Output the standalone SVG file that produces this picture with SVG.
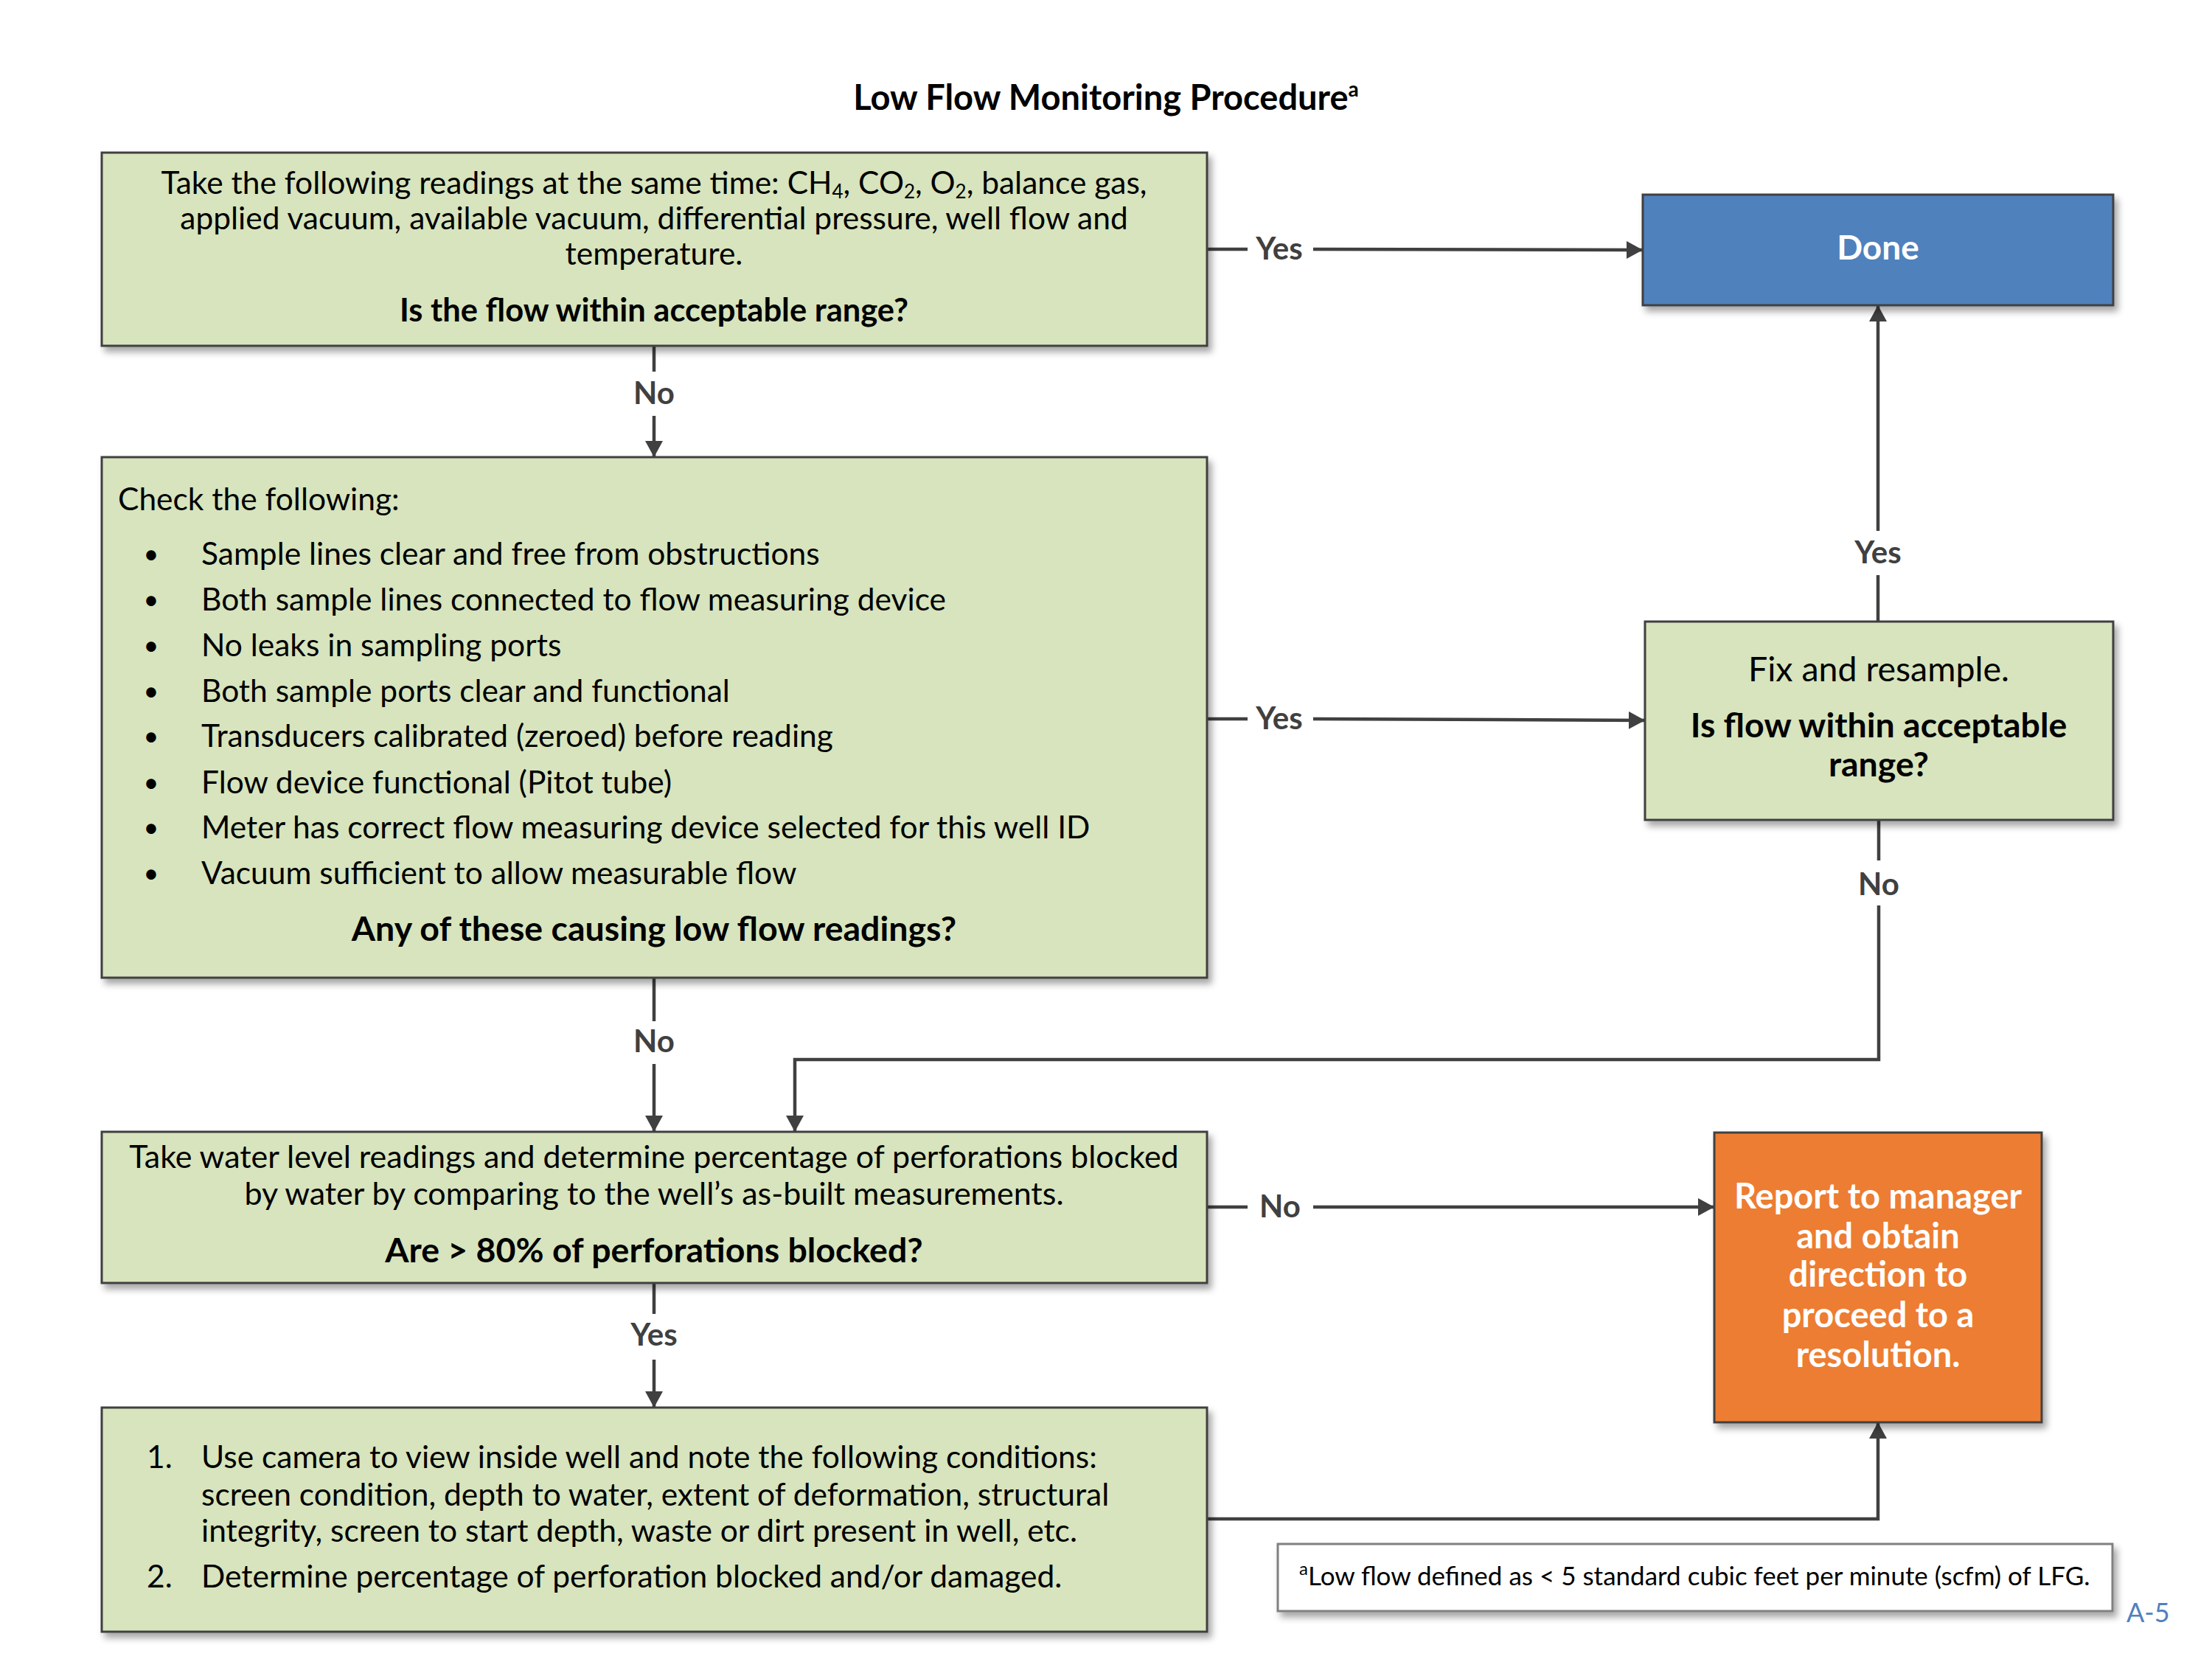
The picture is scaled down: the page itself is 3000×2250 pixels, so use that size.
<svg xmlns="http://www.w3.org/2000/svg" width="3000" height="2250" viewBox="0 0 3000 2250">
<style>
text{font-family:Lato,"Open Sans","DejaVu Sans",sans-serif;fill:#000}
.box{fill:#d7e4bd;stroke:#404040;stroke-width:3;filter:url(#sh)}
.t{font-size:42.5px}
.b{font-weight:bold}
.c{text-anchor:middle}
.q{font-size:46.5px;font-weight:bold;text-anchor:middle}
.bul{font-size:36px;text-anchor:middle}
.lbl{font-size:42px;font-weight:bold;fill:#404040;text-anchor:middle}
.con{fill:none;stroke:#404040;stroke-width:4.5}
.arr{marker-end:url(#ah)}
.w{fill:#fff}
.r{font-size:47px;font-weight:bold;text-anchor:middle;fill:#fff}
.sub{font-size:26px}
</style>
<defs>
<filter id="sh" x="-5%" y="-5%" width="115%" height="125%">
<feDropShadow dx="5" dy="7" stdDeviation="5" flood-color="#000" flood-opacity="0.35"/>
</filter>
<marker id="ah" markerUnits="userSpaceOnUse" markerWidth="24" markerHeight="24" refX="22" refY="12" orient="auto">
<path d="M0,0 L22,12 L0,24 z" fill="#404040"/>
</marker>
</defs>
<rect width="3000" height="2250" fill="#fff"/>

<text id="title" x="1500" y="149" class="b c" font-size="47">Low Flow Monitoring Procedure<tspan font-size="28" dy="-18">a</tspan></text>

<g id="connectors">
<path class="con arr" d="M1637,338 H1692 M1781,338 L2228,339"/>
<path class="con arr" d="M1637,975 H1692 M1781,975 L2231,977"/>
<path class="con arr" d="M887,469 V504 M887,564 V620"/>
<path class="con arr" d="M887,1326 V1385 M887,1443 V1535"/>
<path class="con arr" d="M887,1740 V1782 M887,1844 V1909"/>
<path class="con arr" d="M2547,843 V780 M2547,720 V414"/>
<path class="con arr" d="M2548,1112 V1167 M2548,1228 V1437 H1078 V1535"/>
<path class="con arr" d="M1637,1637 H1692 M1781,1637 H2325"/>
<path class="con arr" d="M1637,2060 H2547 V1929"/>
<text class="lbl" x="1735" y="352">Yes</text>
<text class="lbl" x="1735" y="989">Yes</text>
<text class="lbl" x="887" y="548">No</text>
<text class="lbl" x="887" y="1427">No</text>
<text class="lbl" x="887" y="1825">Yes</text>
<text class="lbl" x="2547" y="764">Yes</text>
<text class="lbl" x="2548" y="1214">No</text>
<text class="lbl" x="1736" y="1651">No</text>
</g>

<g id="n1">
<rect class="box" x="138" y="207" width="1499" height="262"/>
<text class="t c" x="887" y="263">Take the following readings at the same time: CH<tspan class="sub" dy="6">4</tspan><tspan dy="-6">, CO</tspan><tspan class="sub" dy="6">2</tspan><tspan dy="-6">, O</tspan><tspan class="sub" dy="6">2</tspan><tspan dy="-6">, balance gas,</tspan></text>
<text class="t c" x="887" y="311">applied vacuum, available vacuum, differential pressure, well flow and</text>
<text class="t c" x="887" y="359">temperature.</text>
<text class="b c" font-size="43.5" x="887" y="436">Is the flow within acceptable range?</text>
</g>

<g id="n2">
<rect class="box" x="138" y="620" width="1499" height="706"/>
<text class="t" x="160" y="692">Check the following:</text>
<text class="bul" x="205" y="764">•</text>
<text class="bul" x="205" y="826">•</text>
<text class="bul" x="205" y="888">•</text>
<text class="bul" x="205" y="950">•</text>
<text class="bul" x="205" y="1011">•</text>
<text class="bul" x="205" y="1074">•</text>
<text class="bul" x="205" y="1135">•</text>
<text class="bul" x="205" y="1197">•</text>
<text class="t" x="273" y="766">Sample lines clear and free from obstructions</text>
<text class="t" x="273" y="828">Both sample lines connected to flow measuring device</text>
<text class="t" x="273" y="890">No leaks in sampling ports</text>
<text class="t" x="273" y="952">Both sample ports clear and functional</text>
<text class="t" x="273" y="1013">Transducers calibrated (zeroed) before reading</text>
<text class="t" x="273" y="1076">Flow device functional (Pitot tube)</text>
<text class="t" x="273" y="1137">Meter has correct flow measuring device selected for this well ID</text>
<text class="t" x="273" y="1199">Vacuum sufficient to allow measurable flow</text>
<text class="q" x="887" y="1276">Any of these causing low flow readings?</text>
</g>

<g id="n3">
<rect class="box" x="138" y="1535" width="1499" height="205"/>
<text class="c" font-size="43" x="887" y="1584">Take water level readings and determine percentage of perforations blocked</text>
<text class="c" font-size="43" x="887" y="1634">by water by comparing to the well’s as-built measurements.</text>
<text class="q" x="887" y="1712">Are &gt; 80% of perforations blocked?</text>
</g>

<g id="n4">
<rect class="box" x="138" y="1909" width="1499" height="304"/>
<text class="t" x="199" y="1991">1.</text>
<text class="t" x="273" y="1991">Use camera to view inside well and note the following conditions:</text>
<text class="t" x="273" y="2042">screen condition, depth to water, extent of deformation, structural</text>
<text class="t" x="273" y="2091">integrity, screen to start depth, waste or dirt present in well, etc.</text>
<text class="t" x="199" y="2153">2.</text>
<text class="t" x="273" y="2153">Determine percentage of perforation blocked and/or damaged.</text>
</g>

<g id="n5">
<rect x="2228" y="264" width="638" height="150" fill="#4f81bd" stroke="#404040" stroke-width="3" filter="url(#sh)"/>
<text class="b c w" font-size="46" x="2547" y="352">Done</text>
</g>

<g id="n6">
<rect class="box" x="2231" y="843" width="635" height="269"/>
<text class="c" font-size="46.5" x="2548" y="924">Fix and resample.</text>
<text class="q" x="2548" y="1000">Is flow within acceptable</text>
<text class="q" x="2548" y="1053">range?</text>
</g>

<g id="n7">
<rect x="2325" y="1536" width="444" height="393" fill="#ed7d31" stroke="#404040" stroke-width="3" filter="url(#sh)"/>
<text class="r" x="2547" y="1639">Report to manager</text>
<text class="r" x="2547" y="1693">and obtain</text>
<text class="r" x="2547" y="1745">direction to</text>
<text class="r" x="2547" y="1800">proceed to a</text>
<text class="r" x="2547" y="1854">resolution.</text>
</g>

<g id="footnote">
<rect x="1733" y="2094" width="1132" height="91" fill="#fff" stroke="#808080" stroke-width="3" filter="url(#sh)"/>
<text font-size="35" x="1762" y="2150"><tspan font-size="24" dy="-14">a</tspan><tspan dy="14">Low flow defined as &lt; 5 standard cubic feet per minute (scfm) of LFG.</tspan></text>
</g>

<text id="page" x="2884" y="2200" font-size="36" style="fill:#4f81bd">A-5</text>
</svg>
